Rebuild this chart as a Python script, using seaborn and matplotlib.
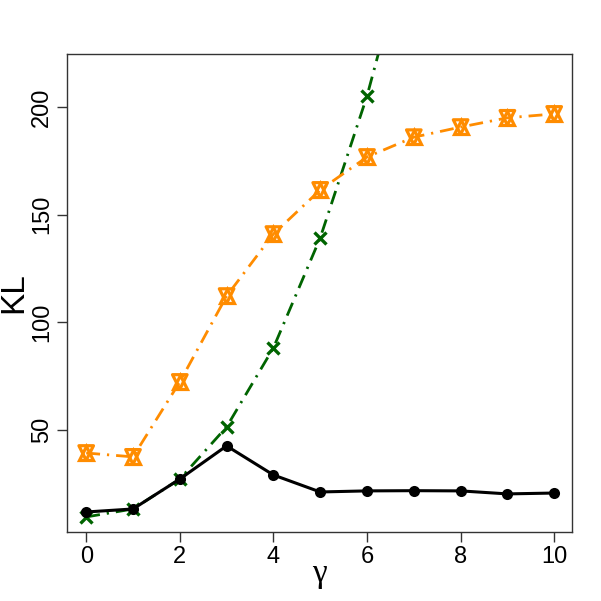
import matplotlib
matplotlib.use("Agg")
import matplotlib.pyplot as plt
import seaborn as sns
import pandas as pd

# gamma values and KL for each method
gamma = [0, 1, 2, 3, 4, 5, 6, 7, 8, 9, 10]
kl_black = [11.9, 13.3, 27.2, 42.6, 29.1, 21.2, 21.7, 21.8, 21.7, 20.3, 20.7]
kl_orange = [39.3, 37.5, 72.3, 112.2, 141.0, 161.5, 176.8, 186.0, 190.7, 195.0, 196.8]
gamma_green = [0, 1, 2, 3, 4, 5, 6, 7]
kl_green = [9.6, 13.3, 27.2, 51.4, 88.1, 139.2, 205.1, 286.0]

x_ticks = [0, 2, 4, 6, 8, 10]
y_ticks = [50, 100, 150, 200]

sns.set_style("ticks")
plt.rcParams["font.family"] = ["Liberation Sans", "DejaVu Sans"]
plt.rcParams["text.color"] = "black"
plt.rcParams["axes.labelcolor"] = "black"
plt.rcParams["xtick.color"] = "black"
plt.rcParams["ytick.color"] = "black"

fig = plt.figure(figsize=(6.01, 6.01), dpi=100)
ax = fig.add_axes([0.1115, 0.1148, 0.8402, 0.7952])

dotdash = (0, (5, 2.5, 0.8, 2.5))

df_g = pd.DataFrame({"gamma": gamma_green, "kl": kl_green})
sns.lineplot(data=df_g, x="gamma", y="kl", ax=ax, color="#006400", lw=2,
             linestyle=dotdash, marker="x", markersize=8.5, markeredgewidth=2.4,
             markeredgecolor="#006400")

df_o = pd.DataFrame({"gamma": gamma, "kl": kl_orange})
sns.lineplot(data=df_o, x="gamma", y="kl", ax=ax, color="#FF8C00", lw=2,
             linestyle=dotdash, marker="^", markersize=10.5, markeredgewidth=2.3,
             markerfacecolor="none", markeredgecolor="#FF8C00")
sns.scatterplot(data=df_o, x="gamma", y="kl", ax=ax, marker="v", s=110,
                facecolor="none", edgecolor="#FF8C00", linewidth=2.3, zorder=3)

df_b = pd.DataFrame({"gamma": gamma, "kl": kl_black})
sns.lineplot(data=df_b, x="gamma", y="kl", ax=ax, color="black", lw=2.2,
             marker="o", markersize=8, markeredgewidth=0, markeredgecolor="black")

ax.set_xlim(-0.41, 10.38)
ax.set_ylim(2.6, 224.6)
ax.set_xticks(x_ticks)
ax.set_yticks(y_ticks)
ax.tick_params(labelsize=17, length=7, width=1, color="#333333", pad=3)
for lab in ax.get_yticklabels():
    lab.set_rotation(90)
    lab.set_va("center")
for sp in ax.spines.values():
    sp.set_visible(True)
    sp.set_color("#333333")
    sp.set_linewidth(1)

ax.set_xlabel("γ", fontsize=24, labelpad=-7, family=["Liberation Serif", "DejaVu Serif"])
ax.set_ylabel("KL", fontsize=24, labelpad=1)

fig.savefig("out.png", dpi=100)
